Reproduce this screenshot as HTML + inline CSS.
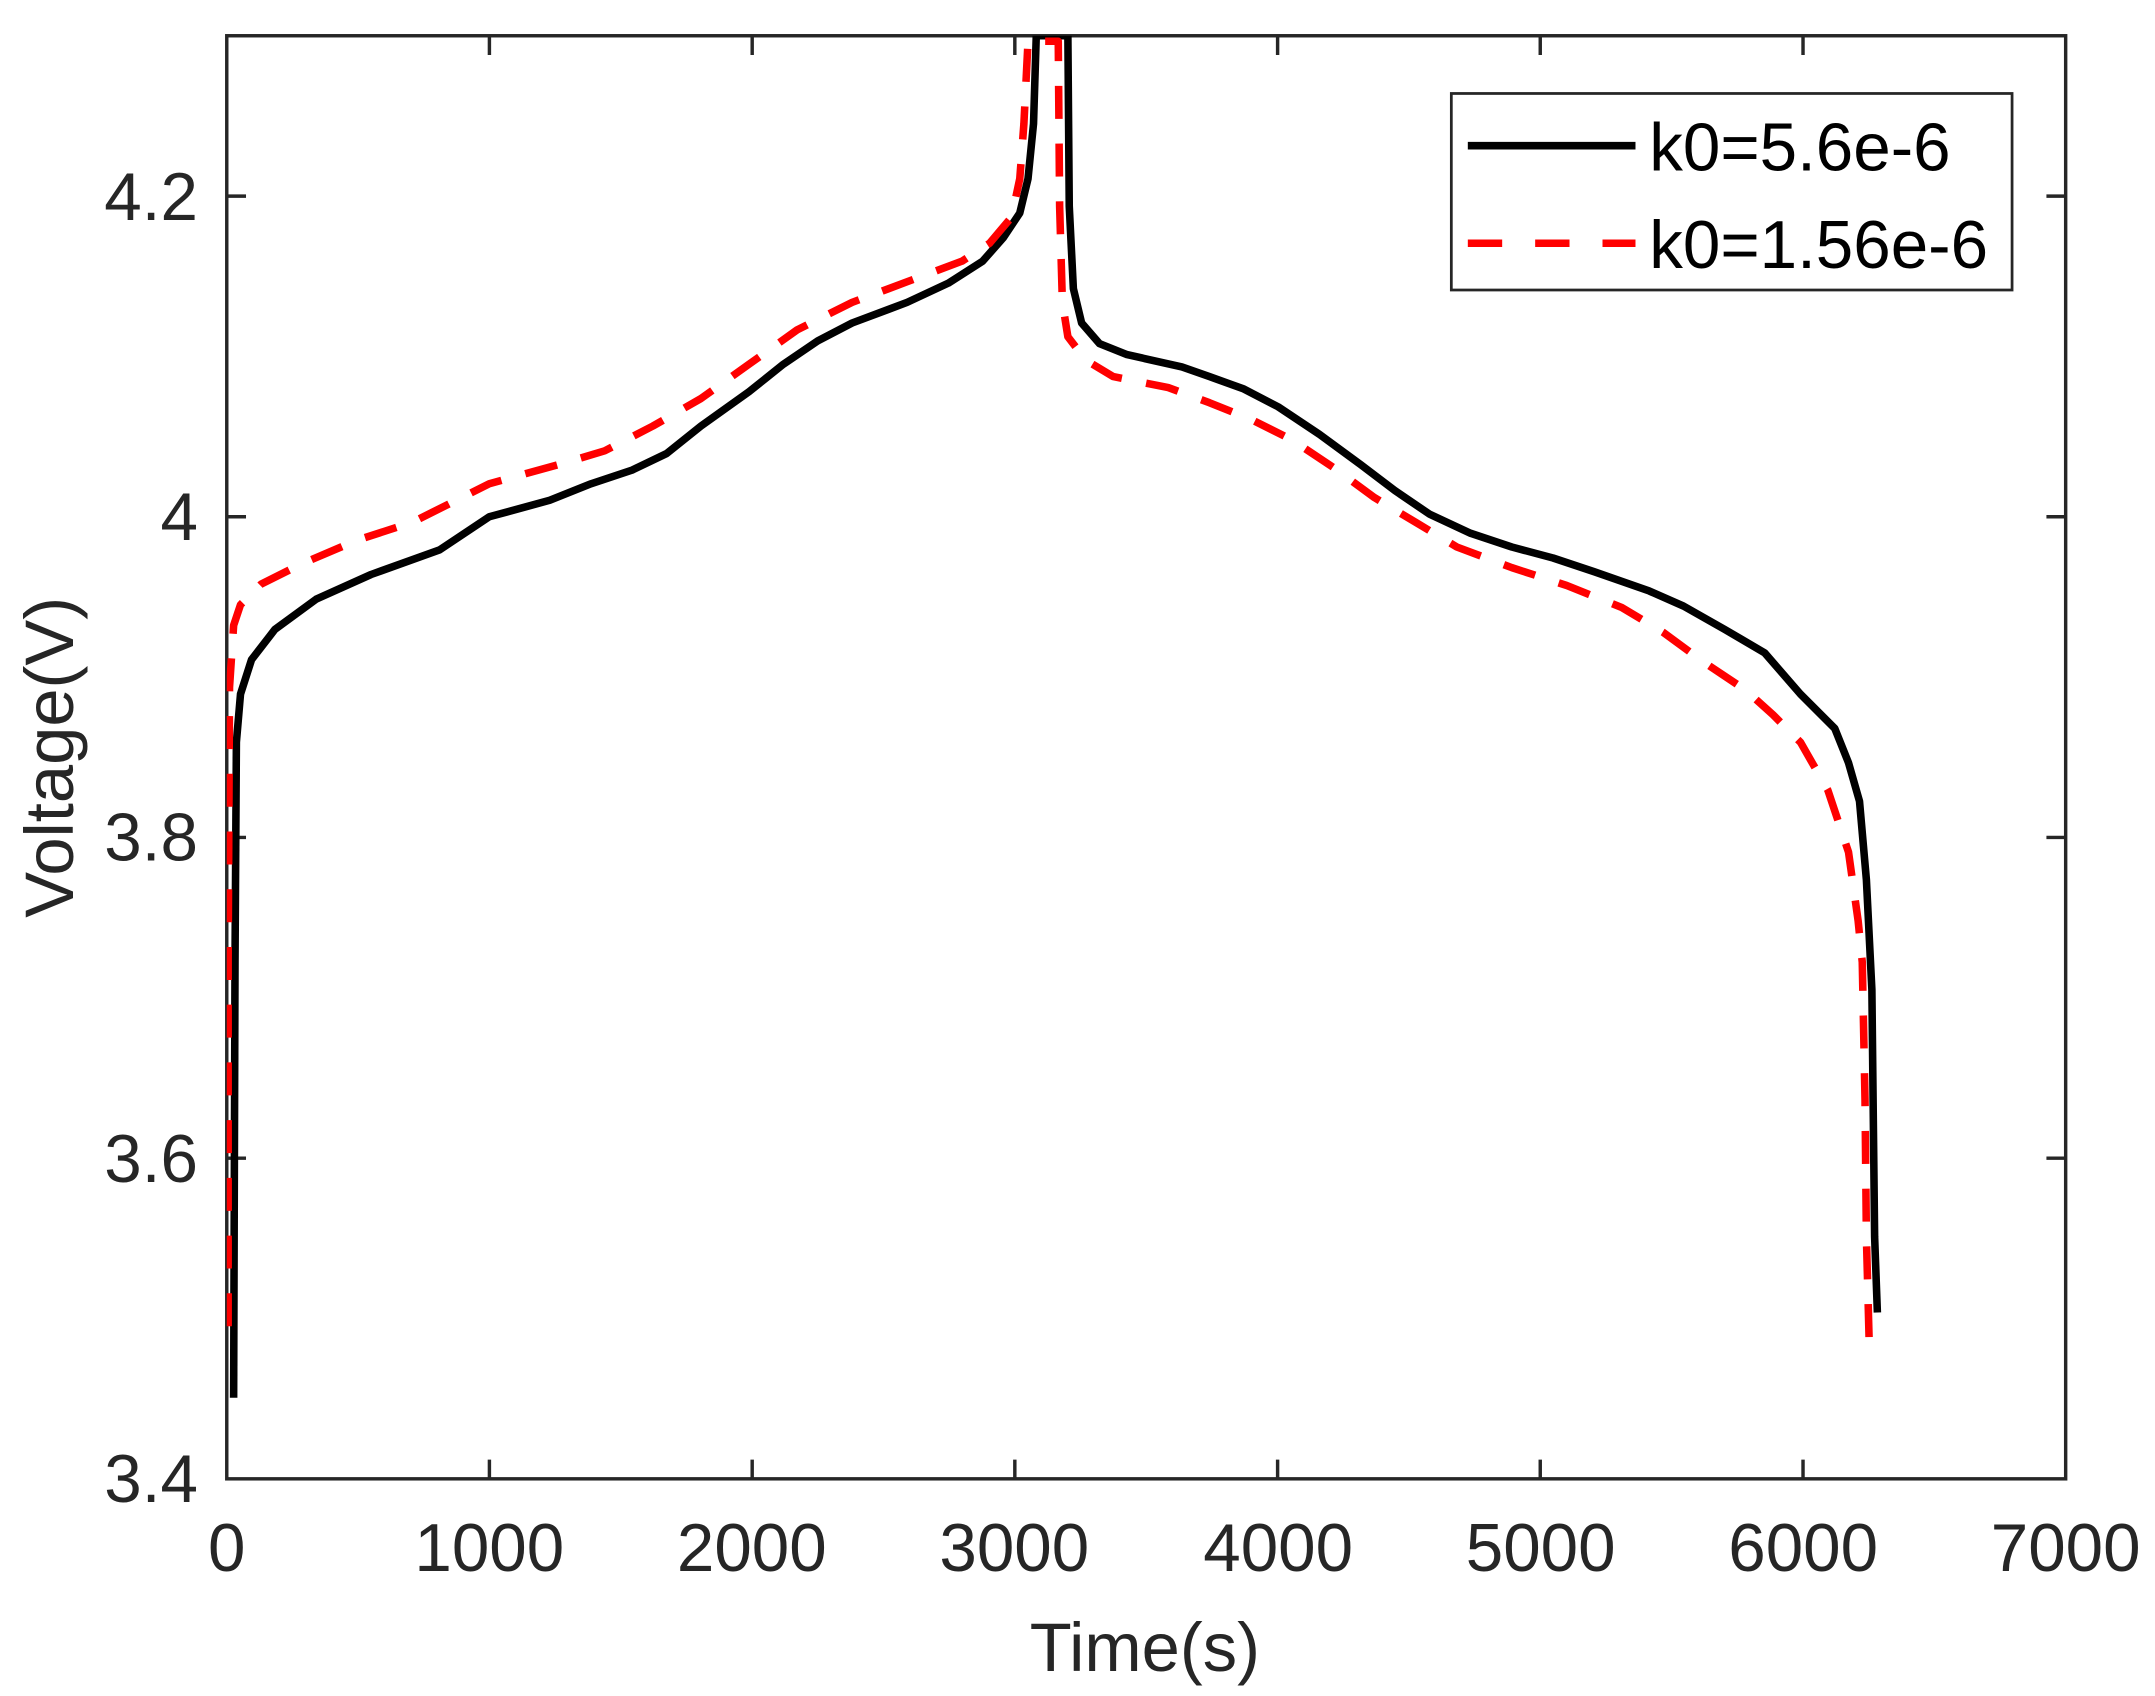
<!DOCTYPE html>
<html><head><meta charset="utf-8"><style>html,body{margin:0;padding:0;background:#fff}svg{display:block}</style></head><body>
<svg width="2155" height="1696" viewBox="0 0 1568 1234" xmlns="http://www.w3.org/2000/svg" font-family="Liberation Sans, Arial, sans-serif">
<rect width="1568" height="1234" fill="#fff"/>
<g stroke="#262626" stroke-width="2.5" fill="none">
<rect x="165" y="26" width="1338" height="1050"/>
<path d="M356.1 1076v-14M547.3 1076v-14M738.4 1076v-14M929.6 1076v-14M1120.7 1076v-14M1311.9 1076v-14M356.1 26v14M547.3 26v14M738.4 26v14M929.6 26v14M1120.7 26v14M1311.9 26v14"/>
<path d="M165 842.7h14M165 609.3h14M165 376h14M165 142.7h14M1503 842.7h-14M1503 609.3h-14M1503 376h-14M1503 142.7h-14"/>
</g>
<g fill="#262626" font-size="49" text-anchor="middle">
<text x="165" y="1143">0</text><text x="356" y="1143">1000</text><text x="547" y="1143">2000</text><text x="738" y="1143">3000</text><text x="930" y="1143">4000</text><text x="1121" y="1143">5000</text><text x="1312" y="1143">6000</text><text x="1503" y="1143">7000</text>
</g>
<g fill="#262626" font-size="49" text-anchor="end">
<text x="144" y="1093">3.4</text><text x="144" y="860">3.6</text><text x="144" y="626">3.8</text><text x="144" y="393">4</text><text x="144" y="160">4.2</text>
</g>
<text x="833" y="1216" font-size="50" fill="#262626" text-anchor="middle">Time(s)</text>
<text transform="translate(53,551) rotate(-90)" font-size="50" fill="#262626" text-anchor="middle">Voltage(V)</text>
<defs><clipPath id="c"><rect x="165" y="26" width="1338" height="1050"/></clipPath></defs>
<g clip-path="url(#c)" fill="none" stroke-linejoin="round">
<polyline stroke="#000" stroke-width="5.5" points="170,1017 171,700 172,540 175,505 183,480 200,458 230,436 270,418 320,400 356,376 400,364 430,352 460,342 485,330 510,310 545,285 570,265 595,248 620,235 660,220 690,206 715,190 730,173 742,155 748,130 752,90 754,26 777,26 778,150 781,210 787,235 800,250 820,258 860,267 880,274 905,283 930,296 960,316 990,338 1015,357 1040,374 1070,388 1100,398 1130,406 1160,416 1200,430 1225,441 1255,458 1284,475 1310,505 1335,530 1345,555 1353,583 1358,640 1362,720 1364,900 1366,955"/>
<polyline stroke="#f00" stroke-width="5.5" stroke-dasharray="24 18" points="166,965 166,700 167,500 170,455 175,440 190,425 220,410 260,393 300,380 356,352 410,337 440,328 475,310 510,290 545,265 580,240 620,220 660,205 700,190 720,177 736,158 742,130 745,90 748,30 770,30 771,150 773,220 777,245 790,262 810,274 850,282 880,293 910,305 940,320 970,340 1000,362 1030,380 1060,398 1100,413 1140,426 1180,442 1210,460 1240,482 1270,502 1290,520 1310,540 1330,575 1345,620 1352,670 1355,700 1357,800 1358,900 1360,975"/>
</g>
<rect x="1056" y="68" width="408" height="143" fill="#fff" stroke="#262626" stroke-width="2"/>
<line x1="1068" y1="106" x2="1190" y2="106" stroke="#000" stroke-width="5.5"/>
<line x1="1068" y1="177" x2="1190" y2="177" stroke="#f00" stroke-width="5.5" stroke-dasharray="25 24"/>
<text x="1200" y="124" font-size="49" fill="#000">k0=5.6e-6</text>
<text x="1200" y="195" font-size="49" fill="#000">k0=1.56e-6</text>
</svg>
</body></html>
